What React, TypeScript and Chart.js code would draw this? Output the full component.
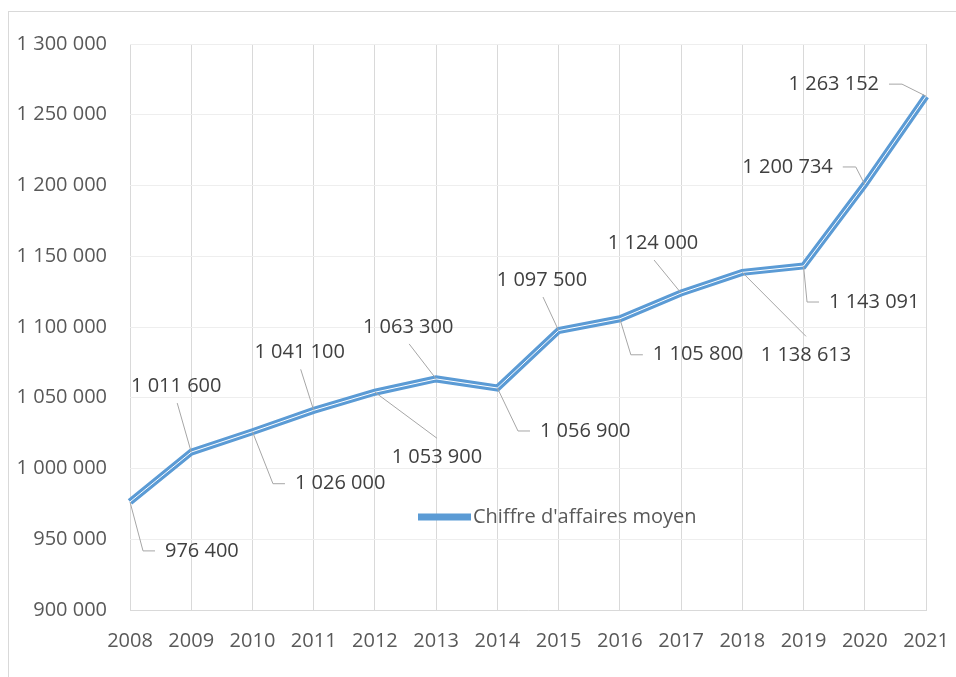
import React, { useEffect, useRef } from "react";
import { Chart, registerables } from "chart.js";

Chart.register(...registerables);

// ---- data ----
const years = ["2008", "2009", "2010", "2011", "2012", "2013", "2014", "2015", "2016", "2017", "2018", "2019", "2020", "2021"];
const revenue = [976400, 1011600, 1026000, 1041100, 1053900, 1063300, 1056900, 1097500, 1105800, 1124000, 1138613, 1143091, 1200734, 1263152];
const seriesName = "Chiffre d'affaires moyen";
const yMin = 900000;
const yMax = 1300000;
const yStep = 50000;

// ---- data-label placement (offsets from each point, in px) ----
type Side = "right" | "left" | "above" | "below";
const labelSide: Side[] = ["right", "above", "right", "above", "below", "above", "right", "above", "right", "above", "below", "right", "left", "left"];
const labelDx = [35, -15, 42.5, -14, 62, -28, 42.6, -16.6, 33, -28, 63.7, 25.5, -32, -47];
const labelDy = [49, -66, 52, -58, 65, -52, 43, -50.5, 36, -50, 83, 36, -17.5, -12];

const FONT = "'Open Sans', 'DejaVu Sans', sans-serif";
const BLUE = "#5B9BD5";
const W = 947;
const H = 665;

function fmt(v: number): string {
  return String(Math.round(v)).replace(/\B(?=(\d{3})+(?!\d))/g, " ");
}

const dataLabelPlugin = {
  id: "dataLabels",
  afterDatasetsDraw(chart: any) {
    const meta = chart.getDatasetMeta(0);
    const ctx = chart.ctx;
    ctx.save();
    ctx.font = `20px ${FONT}`;
    ctx.fillStyle = "#404040";
    ctx.strokeStyle = "#A6A6A6";
    ctx.lineWidth = 1;
    ctx.textBaseline = "middle";
    meta.data.forEach((pt: any, i: number) => {
      const px = pt.x;
      const py = pt.y;
      const tx = px + labelDx[i];
      const ty = py + labelDy[i];
      const side = labelSide[i];
      const text = fmt(revenue[i]);
      ctx.beginPath();
      if (side === "right") {
        ctx.moveTo(px, py);
        ctx.lineTo(tx - 22, ty);
        ctx.lineTo(tx - 10, ty);
        ctx.stroke();
        ctx.textAlign = "left";
      } else if (side === "left") {
        ctx.moveTo(tx + 10, ty);
        ctx.lineTo(tx + 23, ty);
        ctx.lineTo(px, py);
        ctx.stroke();
        ctx.textAlign = "right";
      } else if (side === "above") {
        ctx.moveTo(tx + 1, ty + 17);
        ctx.lineTo(px, py);
        ctx.stroke();
        ctx.textAlign = "center";
      } else {
        ctx.moveTo(px, py);
        ctx.lineTo(tx, ty - 19);
        ctx.stroke();
        ctx.textAlign = "center";
      }
      ctx.fillText(text, tx, ty);
    });
    ctx.restore();
  },
};

const legendPlugin = {
  id: "innerLegend",
  afterDraw(chart: any) {
    const { left, top } = chart.chartArea;
    const ctx = chart.ctx;
    const x = left + 288;
    const y = top + 473;
    ctx.save();
    ctx.strokeStyle = BLUE;
    ctx.lineWidth = 7;
    ctx.beginPath();
    ctx.moveTo(x, y);
    ctx.lineTo(x + 53, y);
    ctx.stroke();
    ctx.font = `20px ${FONT}`;
    ctx.fillStyle = "#595959";
    ctx.textAlign = "left";
    ctx.textBaseline = "middle";
    ctx.fillText(seriesName, x + 55, y);
    ctx.restore();
  },
};

export default function App() {
  const ref = useRef<HTMLCanvasElement | null>(null);

  useEffect(() => {
    if (!ref.current) return;
    const chart = new Chart(ref.current, {
      type: "line",
      data: {
        labels: years,
        datasets: [
          {
            label: seriesName,
            data: revenue,
            borderColor: BLUE,
            backgroundColor: BLUE,
            borderWidth: 7,
            pointRadius: 0,
            tension: 0,
            fill: false,
            order: 2,
          },
          {
            label: "inner",
            data: revenue,
            borderColor: "#FFFFFF",
            borderWidth: 1,
            pointRadius: 0,
            tension: 0,
            fill: false,
            order: 1,
          },
        ],
      },
      options: {
        animation: false,
        responsive: false,
        maintainAspectRatio: false,
        devicePixelRatio: 1,
        layout: { autoPadding: false, padding: { left: 0, right: 30, top: 32, bottom: 5 } },
        plugins: {
          legend: { display: false },
          tooltip: { enabled: false },
        },
        scales: {
          x: {
            offset: false,
            grid: { color: "#D9D9D9", drawTicks: false, lineWidth: 1 },
            border: { color: "#D9D9D9" },
            afterFit: (scale: any) => {
              scale.paddingLeft = 0;
              scale.paddingRight = 0;
            },
            ticks: {
              color: "#595959",
              font: { family: FONT, size: 20 },
              padding: 19,
              maxRotation: 0,
              autoSkip: false,
            },
          },
          y: {
            min: yMin,
            max: yMax,
            grid: { color: "#EEEEEE", drawTicks: false, lineWidth: 1 },
            border: { display: false },
            afterFit: (scale: any) => {
              scale.width = 121;
              scale.paddingTop = 0;
              scale.paddingBottom = 0;
            },
            ticks: {
              stepSize: yStep,
              color: "#595959",
              font: { family: FONT, size: 20 },
              padding: 23,
              callback: (v: any) => fmt(Number(v)),
            },
          },
        },
      },
      plugins: [dataLabelPlugin, legendPlugin],
    });
    return () => chart.destroy();
  }, []);

  return (
    <div
      style={{
        position: "fixed",
        left: 8,
        top: 11,
        width: W,
        height: H,
        borderLeft: "1px solid #D9D9D9",
        borderTop: "1px solid #D9D9D9",
        background: "#fff",
      }}
    >
      <canvas ref={ref} width={W} height={H} style={{ display: "block", width: W, height: H }} />
    </div>
  );
}
